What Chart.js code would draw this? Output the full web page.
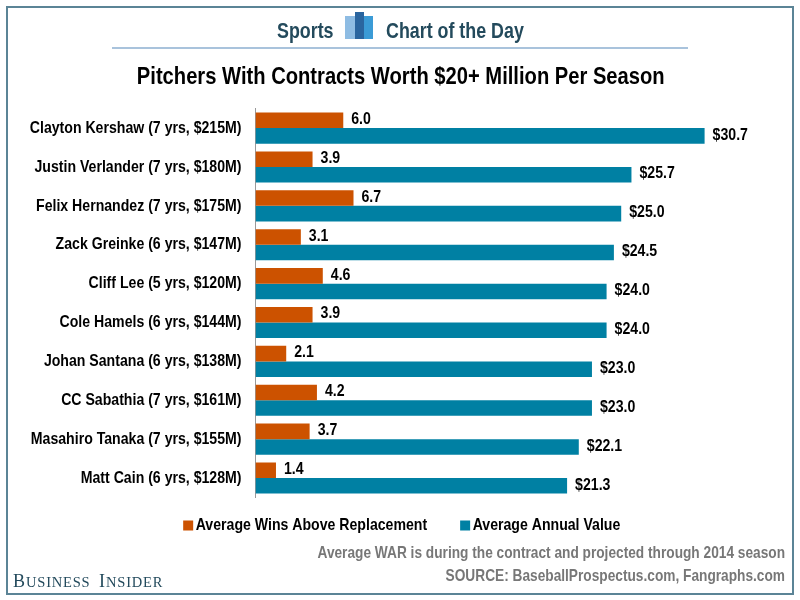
<!DOCTYPE html>
<html>
<head>
<meta charset="utf-8">
<style>
  html, body { margin: 0; padding: 0; background: #fff; }
  #wrap { width: 800px; height: 600px; position: relative; }
</style>
<script src="https://cdn.jsdelivr.net/npm/chart.js@4"></script>
</head>
<body>
<div id="wrap"><canvas id="chart" width="800" height="600"></canvas></div>
<script>
const pitchers = [
  'Clayton Kershaw (7 yrs, $215M)',
  'Justin Verlander (7 yrs, $180M)',
  'Felix Hernandez (7 yrs, $175M)',
  'Zack Greinke (6 yrs, $147M)',
  'Cliff Lee (5 yrs, $120M)',
  'Cole Hamels (6 yrs, $144M)',
  'Johan Santana (6 yrs, $138M)',
  'CC Sabathia (7 yrs, $161M)',
  'Masahiro Tanaka (7 yrs, $155M)',
  'Matt Cain (6 yrs, $128M)'
];
const avgWar = [6.0, 3.9, 6.7, 3.1, 4.6, 3.9, 2.1, 4.2, 3.7, 1.4];
const avgAnnualValue = [30.7, 25.7, 25.0, 24.5, 24.0, 24.0, 23.0, 23.0, 22.1, 21.3];
const seriesNames = ['Average Wins Above Replacement', 'Average Annual Value'];

const SANS = '"Liberation Sans", sans-serif';
const CONDENSE = 0.83;

const canvas = document.getElementById('chart');
const rawCtx = canvas.getContext('2d');

// no narrow font is installed, so squeeze the sans text horizontally
const rawFillText = rawCtx.fillText.bind(rawCtx);
const rawMeasure = rawCtx.measureText.bind(rawCtx);
const squeeze = () => rawCtx.font.includes('Serif') ? 1 : CONDENSE;
rawCtx.fillText = (text, x, y) => {
  const sx = squeeze();
  // legend text sits tight against its swatch
  const dx = seriesNames.includes(text) ? -6 : 0;
  rawCtx.save();
  rawCtx.translate(x + dx, y);
  rawCtx.scale(sx, 1);
  rawFillText(text, 0, 0);
  rawCtx.restore();
};
rawCtx.measureText = (text) => ({ width: rawMeasure(text).width * squeeze() });

// value labels next to each bar
const barLabels = {
  id: 'barLabels',
  afterDatasetsDraw(chart) {
    const ctx = chart.ctx;
    ctx.save();
    ctx.font = 'bold 17px ' + SANS;
    ctx.fillStyle = '#000';
    ctx.textBaseline = 'middle';
    chart.data.datasets.forEach((ds, i) => {
      chart.getDatasetMeta(i).data.forEach((bar, j) => {
        const text = i === 1 ? '$' + ds.data[j].toFixed(1) : ds.data[j].toFixed(1);
        ctx.fillText(text, bar.x + 8, bar.y - 1);
      });
    });
    ctx.restore();
  }
};

// frame, header, footer
const decorations = {
  id: 'decorations',
  afterLayout(chart) {
    // title and legend are centred on the page, the plot is not
    chart.titleBlock.left += 12;
    chart.titleBlock.right += 12;
    const legend = chart.legend;
    legend.left += 16;
    legend.right += 16;
    legend.top -= 7.5;
    legend.bottom -= 7.5;
  },
  beforeDraw(chart) {
    const ctx = chart.ctx;
    ctx.save();
    ctx.fillStyle = '#fff';
    ctx.fillRect(0, 0, 800, 600);
    ctx.strokeStyle = '#5b8496';
    ctx.lineWidth = 2;
    ctx.strokeRect(7, 7, 786, 587);

    ctx.fillStyle = '#234a5c';
    ctx.font = 'bold 21.5px ' + SANS;
    ctx.textBaseline = 'alphabetic';
    ctx.fillText('Sports', 277, 38);
    ctx.fillText('Chart of the Day', 386, 38);

    ctx.fillStyle = '#8ebce3';
    ctx.fillRect(345, 16, 28, 23);
    ctx.fillStyle = '#3b9bd6';
    ctx.fillRect(363, 16, 10, 23);
    ctx.fillStyle = '#2a659f';
    ctx.fillRect(355, 12, 9, 27);

    ctx.fillStyle = '#a9c3dc';
    ctx.fillRect(112, 47, 576, 2);

    ctx.fillStyle = '#777';
    ctx.font = 'bold 16.5px ' + SANS;
    ctx.textAlign = 'right';
    ctx.fillText('Average WAR is during the contract and projected through 2014 season', 785, 558);
    ctx.fillText('SOURCE: BaseballProspectus.com, Fangraphs.com', 785, 581);

    ctx.textAlign = 'left';
    ctx.fillStyle = '#234a5c';
    ctx.letterSpacing = '0.8px';
    ctx.font = '18px "Liberation Serif", serif';
    ctx.fillText('B', 13, 587);
    ctx.fillText('I', 99, 587);
    ctx.font = '14.5px "Liberation Serif", serif';
    ctx.fillText('USINESS', 26, 587);
    ctx.fillText('NSIDER', 106, 587);
    ctx.restore();
  }
};

new Chart(canvas, {
  type: 'bar',
  data: {
    labels: pitchers,
    datasets: [
      { label: seriesNames[0], data: avgWar, backgroundColor: '#cc5200' },
      { label: seriesNames[1], data: avgAnnualValue, backgroundColor: '#0080a3' }
    ]
  },
  plugins: [decorations, barLabels],
  options: {
    indexAxis: 'y',
    responsive: false,
    animation: false,
    categoryPercentage: 0.8,
    barPercentage: 1,
    layout: { padding: { left: 10, right: 32.5, top: 0, bottom: 48.5 } },
    scales: {
      x: { min: 0, max: 35, display: false, grid: { display: false } },
      y: {
        afterFit(axis) { axis.width = 245.5; },
        grid: { display: false, drawTicks: false },
        border: { color: '#999', width: 1 },
        ticks: { color: '#000', padding: 14, autoSkip: false, font: { family: SANS, size: 17, weight: 'bold' } }
      }
    },
    plugins: {
      title: {
        display: true,
        text: 'Pitchers With Contracts Worth $20+ Million Per Season',
        color: '#000',
        font: { family: SANS, size: 24.3, weight: 'bold' },
        padding: { top: 63, bottom: 16.5 }
      },
      legend: {
        position: 'bottom',
        labels: {
          boxWidth: 10, boxHeight: 10, padding: 27, color: '#000',
          font: { family: SANS, size: 17, weight: 'bold' }
        }
      },
      tooltip: { enabled: false }
    }
  }
});
</script>
</body>
</html>
